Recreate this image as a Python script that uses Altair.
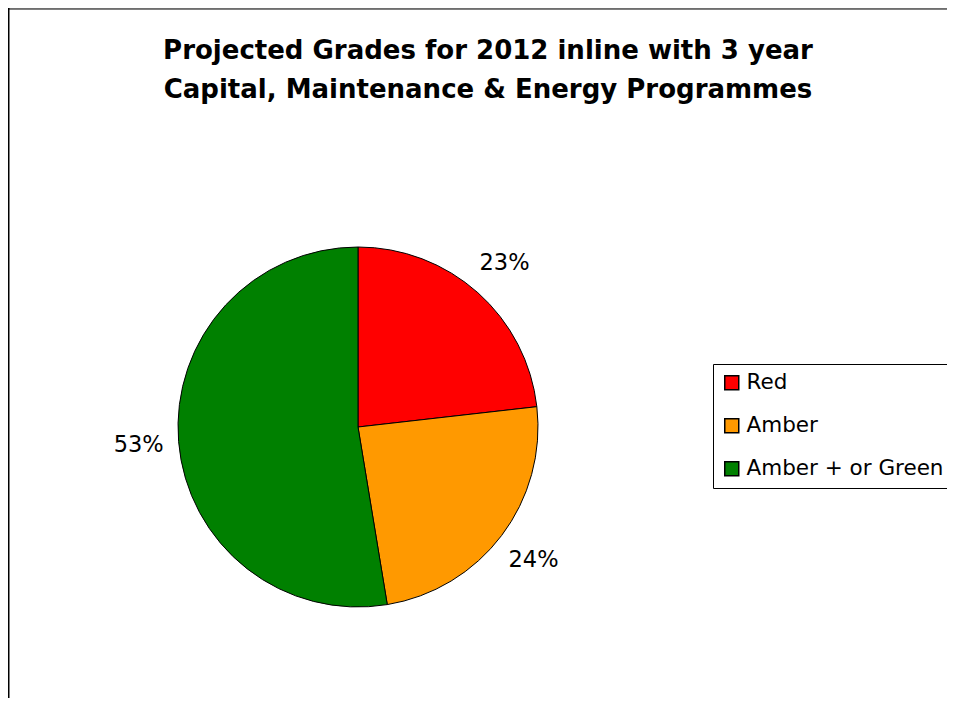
import altair as alt
import pandas as pd

categories = ["Red", "Amber", "Amber + or Green"]
shares = [23.2, 24.2, 52.6]
labels = ["23%", "24%", "53%"]
colors = ["#FF0000", "#FF9900", "#008000"]
title_lines = ["Projected Grades for 2012 inline with 3 year",
               "Capital, Maintenance & Energy Programmes"]

FONT = "DejaVu Sans"
W, H = 939, 690

df = pd.DataFrame({"grade": categories, "share": shares, "label": labels,
                   "order": list(range(len(categories)))})

base = alt.Chart(df).encode(
    theta=alt.Theta("share:Q", stack=True),
    order=alt.Order("order:Q"),
    x=alt.value(350),
    y=alt.value(419),
)

pie = base.mark_arc(outerRadius=180, stroke="black", strokeWidth=1).encode(
    color=alt.Color(
        "grade:N",
        scale=alt.Scale(domain=categories, range=colors),
        legend=alt.Legend(
            title=None,
            orient="none",
            legendX=705,
            legendY=356,
            direction="vertical",
            fillColor="white",
            strokeColor="black",
            padding=8,
            symbolType="square",
            symbolSize=196,
            symbolStrokeColor="black",
            symbolStrokeWidth=1.5,
            symbolOpacity=1,
            labelFont=FONT,
            labelFontSize=21.5,
            labelColor="black",
            labelOffset=4,
            rowPadding=20,
            labelLimit=400,
        ),
    )
)

pct = base.mark_text(radius=220, font=FONT, fontSize=22.5, color="black").encode(
    text="label:N"
)

title_df = pd.DataFrame({"text": ["\n".join(title_lines)]})
title = alt.Chart(title_df).mark_text(
    font=FONT, fontSize=26, fontWeight="bold", color="black",
    align="center", baseline="alphabetic", lineBreak="\n", lineHeight=39,
).encode(text="text:N", x=alt.value(480), y=alt.value(51))

frame_df = pd.DataFrame({"k": [0]})
left_edge = alt.Chart(frame_df).mark_rule(color="black", strokeWidth=1.5).encode(
    x=alt.value(0.75), y=alt.value(0), y2=alt.value(H)
)
top_edge = alt.Chart(frame_df).mark_rule(color="black", strokeWidth=1.2).encode(
    x=alt.value(0), x2=alt.value(W), y=alt.value(1)
)

chart = alt.layer(left_edge, top_edge, pie, pct, title).properties(
    width=W, height=H,
    autosize=alt.AutoSizeParams(type="none"),
    padding=0,
).configure_view(stroke=None).configure_legend(strokeWidth=1).configure(background="white")

chart.save("out.html", embed_options={"renderer": "svg", "actions": False})
